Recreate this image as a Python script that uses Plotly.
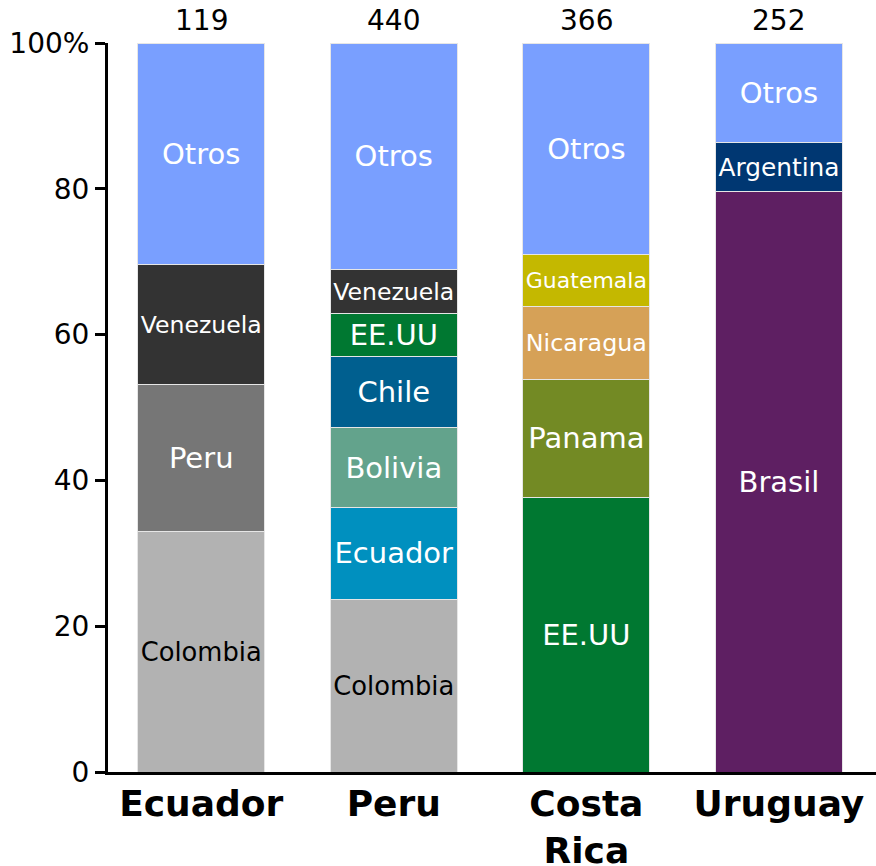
import plotly.graph_objects as go

countries = ["Ecuador", "Peru", "Costa Rica", "Uruguay"]
country_ticks = ["Ecuador", "Peru", "Costa<br>Rica", "Uruguay"]
totals = [119, 440, 366, 252]

ecuador_origins = ["Colombia", "Peru", "Venezuela", "Otros"]
ecuador_shares = [33.0, 20.2, 16.4, 30.4]

peru_origins = ["Colombia", "Ecuador", "Bolivia", "Chile", "EE.UU", "Venezuela", "Otros"]
peru_shares = [23.7, 12.6, 10.9, 9.8, 5.9, 6.0, 31.1]

costarica_origins = ["EE.UU", "Panama", "Nicaragua", "Guatemala", "Otros"]
costarica_shares = [37.6, 16.3, 10.0, 7.1, 29.0]

uruguay_origins = ["Brasil", "Argentina", "Otros"]
uruguay_shares = [79.6, 6.7, 13.7]

colors = {
    "Otros": "#799FFF",
    "Venezuela": "#333333",
    "Peru": "#767676",
    "Colombia": "#B2B2B2",
    "EE.UU": "#007831",
    "Chile": "#005F8F",
    "Bolivia": "#63A38C",
    "Ecuador": "#0090BF",
    "Guatemala": "#C4B800",
    "Nicaragua": "#D6A157",
    "Panama": "#738A24",
    "Argentina": "#003772",
    "Brasil": "#5E1F62",
}
text_colors = {"Colombia": "black"}

tick_vals = [0, 20, 40, 60, 80, 100]
tick_text = ["0", "20", "40", "60", "80", "100%"]

FONT = "DejaVu Sans"

fig = go.Figure()
data = [
    (countries[0], ecuador_origins, ecuador_shares),
    (countries[1], peru_origins, peru_shares),
    (countries[2], costarica_origins, costarica_shares),
    (countries[3], uruguay_origins, uruguay_shares),
]
for country, origins, shares in data:
    for origin, share in zip(origins, shares):
        fig.add_trace(go.Bar(
            x=[country], y=[share], name=origin,
            marker=dict(color=colors[origin], line=dict(color="#E6E6E6", width=1)),
            text=[origin], textposition="inside", insidetextanchor="middle",
            textangle=0,
            insidetextfont=dict(family=FONT, size=29, color=text_colors.get(origin, "white")),
            showlegend=False, hoverinfo="skip",
        ))

for country, total in zip(countries, totals):
    fig.add_annotation(x=country, y=100, text=str(total), showarrow=False,
                       yanchor="bottom", yshift=4,
                       font=dict(family=FONT, size=28, color="black"))

fig.update_layout(
    barmode="stack",
    bargap=0.34,
    width=876, height=866,
    margin=dict(l=108, r=0, t=43, b=94),
    plot_bgcolor="white", paper_bgcolor="white",
    font=dict(family=FONT, color="black"),
)
fig.update_xaxes(
    categoryorder="array", categoryarray=countries,
    tickvals=countries, ticktext=country_ticks,
    range=[-0.484, 3.504],
    showline=True, linecolor="black", linewidth=3,
    ticks="", showgrid=False, automargin=False,
    ticklabelstandoff=-2,
    tickfont=dict(family=FONT, size=36, color="black", weight="bold"),
)
fig.update_yaxes(
    range=[0, 100],
    tickvals=tick_vals, ticktext=tick_text,
    showline=True, linecolor="black", linewidth=3,
    ticks="outside", ticklen=10, tickwidth=3, tickcolor="black",
    showgrid=False, zeroline=False, automargin=False,
    tickfont=dict(family=FONT, size=28, color="black"),
)

fig.write_html(
    "out.html",
    config={"displayModeBar": False},
    post_script="document.body.style.margin='0';document.body.style.overflow='hidden';",
)
